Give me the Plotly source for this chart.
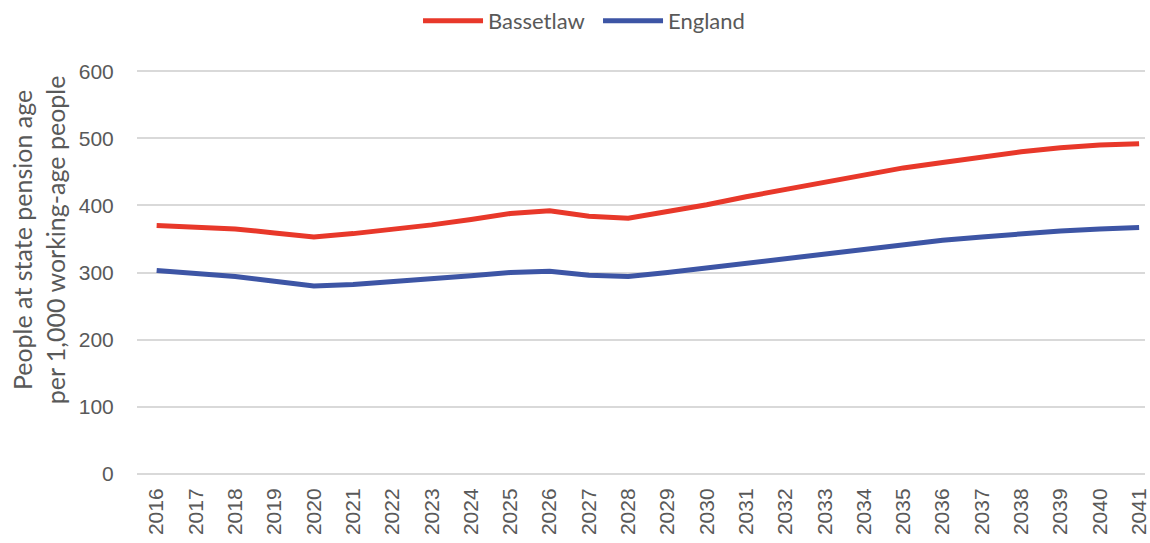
import plotly.graph_objects as go

# ---------------------------------------------------------------------------
# Data: old-age dependency ratio (people at SPA per 1,000 working-age people)
# ---------------------------------------------------------------------------
years = [str(y) for y in range(2016, 2042)]

bassetlaw = [370, 368, 365, 359, 353, 358, 364, 371, 379, 388, 392, 384, 381,
             391, 401, 413, 424, 435, 446, 456, 464, 472, 480, 486, 490, 492]

england = [303, 298, 294, 287, 280, 282, 286, 290, 295, 300, 302, 296, 294,
           300, 307, 314, 321, 328, 335, 341, 348, 353, 358, 362, 365, 367]

y_ticks = [0, 100, 200, 300, 400, 500, 600]

TEXT = '#595959'
GRID = '#d9d9d9'

fig = go.Figure()
fig.add_trace(go.Scatter(x=years, y=bassetlaw, mode='lines', name='Bassetlaw',
                         line=dict(color='#e8382a', width=5)))
fig.add_trace(go.Scatter(x=years, y=england, mode='lines', name='England',
                         line=dict(color='#3d55a5', width=5)))

fig.update_layout(
    width=1150, height=543,
    margin=dict(l=137, r=5, t=70, b=68),
    plot_bgcolor='white', paper_bgcolor='white',
    font=dict(family='Liberation Sans, Arial, sans-serif', color=TEXT),
    legend=dict(orientation='h', xref='container', x=0.3635, xanchor='left',
                yref='container', y=1, yanchor='top',
                font=dict(family='Lato, Open Sans, sans-serif', size=22, color=TEXT),
                itemwidth=60, entrywidth=105, tracegroupgap=0),
    showlegend=True,
)
fig.update_xaxes(type='category', range=[-0.5, 25.15], tickangle=-90,
                 tickfont=dict(size=21, color=TEXT), showgrid=False,
                 ticks='outside', ticklen=4, tickcolor='white',
                 showline=False, zeroline=False, automargin=False)
fig.update_yaxes(range=[-2, 602], tickvals=y_ticks, tickfont=dict(size=21, color=TEXT),
                 gridcolor=GRID, gridwidth=1.5, zeroline=False, showline=False,
                 ticks='outside', ticklen=18, tickcolor='white', automargin=False)

# y-axis title as an annotation so it can sit a little above the plot centre
fig.add_annotation(text='People at state pension age<br>per 1,000 working-age people',
                   xref='paper', yref='paper', x=-0.098, y=0.58,
                   xanchor='center', yanchor='middle', textangle=-90, showarrow=False,
                   font=dict(family='Lato, Open Sans, sans-serif', size=25, color=TEXT))

# drop the browser's default 8px body margin so the figure sits at the page corner
fig.write_html("out.html", config={'displayModeBar': False},
               post_script="document.body.style.margin='0';")
